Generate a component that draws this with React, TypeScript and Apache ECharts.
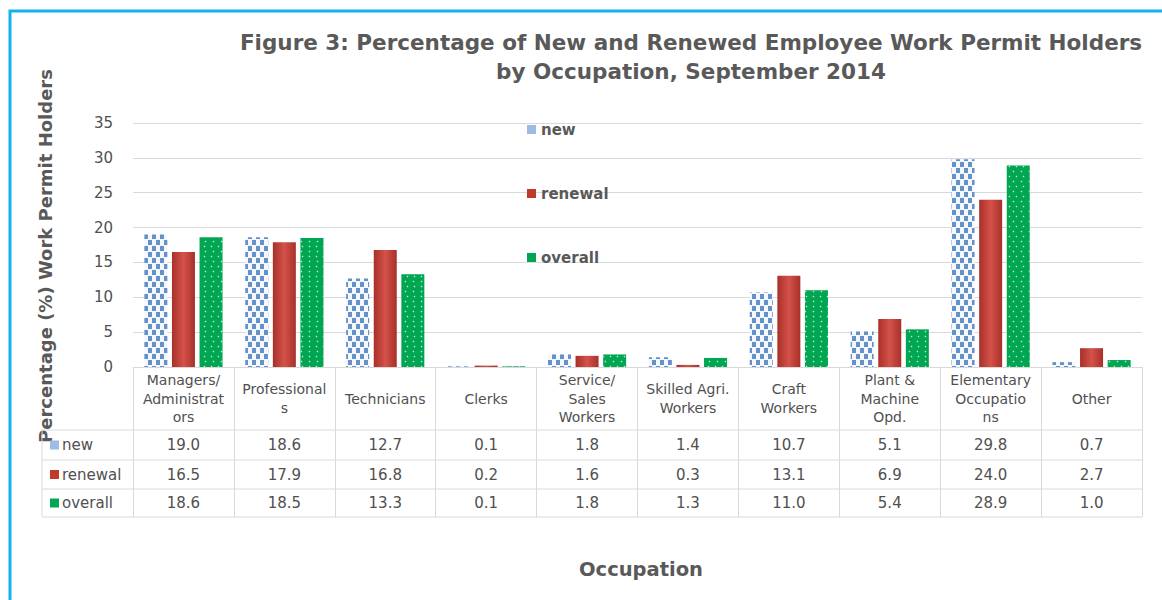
import React, { useEffect, useRef } from "react";
import * as echarts from "echarts";

const CATEGORY_LABELS = [
  "Managers/\nAdministrat\nors",
  "Professional\ns",
  "Technicians",
  "Clerks",
  "Service/\nSales\nWorkers",
  "Skilled Agri.\nWorkers",
  "Craft\nWorkers",
  "Plant &\nMachine\nOpd.",
  "Elementary\nOccupatio\nns",
  "Other",
];
const SERIES_NAMES = ["new", "renewal", "overall"];
const NEW_VALUES = [19.0, 18.6, 12.7, 0.1, 1.8, 1.4, 10.7, 5.1, 29.8, 0.7];
const RENEWAL_VALUES = [16.5, 17.9, 16.8, 0.2, 1.6, 0.3, 13.1, 6.9, 24.0, 2.7];
const OVERALL_VALUES = [18.6, 18.5, 13.3, 0.1, 1.8, 1.3, 11.0, 5.4, 28.9, 1.0];
const Y_MIN = 0;
const Y_MAX = 35;
const Y_INTERVAL = 5;
const TITLE_TEXT = "Figure 3: Percentage of New and Renewed Employee Work Permit Holders\nby Occupation, September 2014";
const Y_TITLE = "Percentage (%) Work Permit Holders";
const X_TITLE = "Occupation";

const FONT = "'DejaVu Sans', sans-serif";
const GREY = "#595959";
const LINE = "#d9d9d9";

// layout
const W = 1162;
const H = 600;
const GRID_LEFT = 133;
const GRID_RIGHT_X = 1142;
const GRID_TOP = 123;
const AXIS_Y = 367;
const TABLE_LEFT = 42;
const ROW_LINES = [430, 460, 489, 517];

export default function App() {
  const ref = useRef<HTMLDivElement>(null);

  useEffect(() => {
    if (!ref.current) return;
    const chart = echarts.init(ref.current, null, { renderer: "svg" });

    const seriesValues = [NEW_VALUES, RENEWAL_VALUES, OVERALL_VALUES];
    const rowCenters = [0, 1, 2].map((i) => (ROW_LINES[i] + ROW_LINES[i + 1]) / 2);
    const headerCenter = (AXIS_Y + ROW_LINES[0]) / 2;

    const iconColors = ["#9dbbe3", "#c0392b", "#00a651"];

    const seriesStyles: any[] = [
      {
        color: "#f4f8fd",
        decal: {
          symbol: "rect",
          color: "#6591cb",
          symbolSize: 1,
          dashArrayX: [[4, 4], [0, 4, 4, 0]],
          dashArrayY: [5, 1],
          rotation: 0,
        },
      },
      {
        color: new echarts.graphic.LinearGradient(0, 0, 1, 0, [
          { offset: 0, color: "#a83029" },
          { offset: 0.5, color: "#d4524a" },
          { offset: 1, color: "#a83029" },
        ]),
      },
      {
        color: "#00a651",
        decal: {
          symbol: "circle",
          color: "rgba(255,255,255,0.75)",
          symbolSize: 0.5,
          dashArrayX: [[3, 4], [0, 3.5, 3, 0.5]],
          dashArrayY: [3, 2],
          rotation: 0,
        },
      },
    ];

    const valueAxes = seriesValues.map((vals, i) => ({
      type: "category",
      position: "bottom",
      data: CATEGORY_LABELS,
      gridIndex: 0,
      axisLine: { show: false },
      axisTick: { show: false },
      splitLine: { show: false },
      axisLabel: {
        interval: 0,
        margin: rowCenters[i] - AXIS_Y,
        verticalAlign: "middle",
        fontSize: 15,
        color: "#505050",
        fontFamily: FONT,
        formatter: (_v: string, idx: number) => vals[idx].toFixed(1),
      },
    }));

    const graphic: any[] = [
      {
        type: "polyline",
        shape: { points: [[10, H], [10, 11], [W, 11]] },
        style: { stroke: "#12b2f0", lineWidth: 3, fill: null },
      },
      {
        type: "text",
        x: 45,
        y: 256,
        rotation: Math.PI / 2,
        style: {
          text: Y_TITLE,
          align: "center",
          verticalAlign: "middle",
          fontSize: 18,
          fontWeight: "bold",
          fontFamily: FONT,
          fill: GREY,
        },
      },
      {
        type: "text",
        x: 641,
        y: 569,
        style: {
          text: X_TITLE,
          align: "center",
          verticalAlign: "middle",
          fontSize: 19.5,
          fontWeight: "bold",
          fontFamily: FONT,
          fill: GREY,
        },
      },
      ...ROW_LINES.map((y) => ({
        type: "line",
        shape: { x1: TABLE_LEFT, y1: y, x2: GRID_RIGHT_X, y2: y },
        style: { stroke: LINE, lineWidth: 1 },
      })),
      {
        type: "line",
        shape: { x1: TABLE_LEFT, y1: ROW_LINES[0], x2: TABLE_LEFT, y2: ROW_LINES[3] },
        style: { stroke: LINE, lineWidth: 1 },
      },
      ...SERIES_NAMES.flatMap((name, i) => [
        {
          type: "rect",
          shape: { x: 50, y: rowCenters[i] - 4.5, width: 9, height: 9 },
          style: { fill: iconColors[i] },
        },
        {
          type: "text",
          x: 62,
          y: rowCenters[i],
          style: {
            text: name,
            align: "left",
            verticalAlign: "middle",
            fontSize: 15,
            fontFamily: FONT,
            fill: "#505050",
          },
        },
      ]),
    ];

    const option: any = {
      animation: false,
      backgroundColor: "#ffffff",
      title: {
        text: TITLE_TEXT,
        left: 686,
        textAlign: "center",
        top: 23,
        textStyle: {
          fontSize: 21.5,
          lineHeight: 29,
          fontWeight: "bold",
          color: GREY,
          fontFamily: FONT,
        },
      },
      legend: {
        data: SERIES_NAMES.map((name, i) => ({
          name,
          itemStyle: { color: iconColors[i], decal: "none" },
        })),
        orient: "vertical",
        left: 522,
        top: 117,
        itemGap: 49,
        itemWidth: 9,
        itemHeight: 9,
        icon: "rect",
        textStyle: {
          fontSize: 15,
          lineHeight: 15,
          fontWeight: "bold",
          color: GREY,
          fontFamily: FONT,
        },
      },
      grid: {
        left: GRID_LEFT,
        right: W - GRID_RIGHT_X,
        top: GRID_TOP,
        bottom: H - AXIS_Y,
        containLabel: false,
      },
      xAxis: [
        {
          type: "category",
          position: "bottom",
          data: CATEGORY_LABELS,
          axisLine: { show: true, lineStyle: { color: LINE, width: 1 } },
          axisTick: {
            show: true,
            length: ROW_LINES[3] - AXIS_Y,
            lineStyle: { color: LINE, width: 1 },
          },
          axisLabel: {
            interval: 0,
            margin: headerCenter - AXIS_Y,
            verticalAlign: "middle",
            fontSize: 14,
            lineHeight: 18.5,
            color: "#505050",
            fontFamily: FONT,
          },
        },
        ...valueAxes,
      ],
      yAxis: {
        type: "value",
        min: Y_MIN,
        max: Y_MAX,
        interval: Y_INTERVAL,
        axisLine: { show: false },
        axisTick: { show: false },
        splitLine: { lineStyle: { color: LINE, width: 1 } },
        axisLabel: {
          margin: 20,
          fontSize: 15,
          color: "#505050",
          fontFamily: FONT,
        },
      },
      series: SERIES_NAMES.map((name, i) => ({
        name,
        type: "bar",
        xAxisIndex: 0,
        data: seriesValues[i],
        barWidth: 23,
        barGap: "20%",
        barCategoryGap: "22%",
        itemStyle: seriesStyles[i],
      })),
      graphic,
    };

    chart.setOption(option);
    return () => chart.dispose();
  }, []);

  return (
    <div
      ref={ref}
      style={{ position: "fixed", left: 0, top: 0, width: W, height: H }}
    />
  );
}
